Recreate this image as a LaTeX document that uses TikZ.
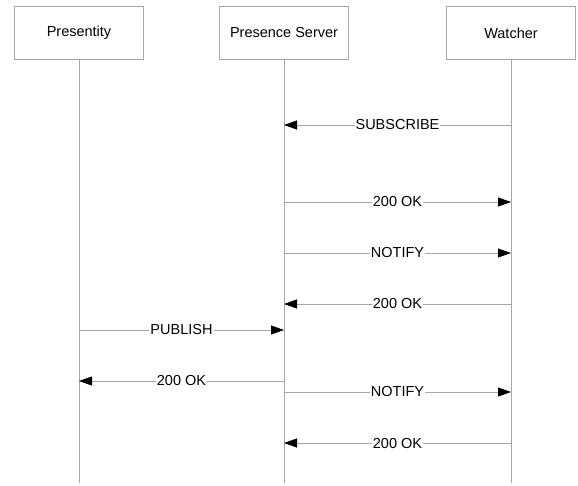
\documentclass[tikz,border=0pt]{standalone}
\usepackage{fontspec}
\setmainfont{Liberation Sans}
\usetikzlibrary{arrows.meta,positioning}

\begin{document}
\begin{tikzpicture}[x=1pt,y=-1pt,
actor/.style={draw=gray!70,line width=0.8pt,minimum width=129pt,minimum height=53pt,font=\fontsize{14.5}{16}\selectfont},
life/.style={draw=gray!70,line width=0.8pt},
msg/.style={draw=gray!70,line width=0.8pt,-{Triangle[length=13pt,width=9pt,color=black]}},
lbl/.style={fill=white,inner sep=1pt,font=\fontsize{14.5}{16}\selectfont}]
\useasboundingbox (0,0) rectangle (578,485);
\node[actor] (pres) at (79,33) {Presentity};
\node[actor] (srv) at (284,33) {Presence Server};
\node[actor] (wat) at (511,33) {Watcher};
\coordinate (presEnd) at (79,483);
\coordinate (srvEnd) at (284,483);
\coordinate (watEnd) at (511,483);
\draw[life] (pres)--(presEnd);
\draw[life] (srv)--(srvEnd);
\draw[life] (wat)--(watEnd);
% message ends
\coordinate (w1) at (511,125); \coordinate (s1) at (284,125);
\coordinate (s2) at (284,202); \coordinate (w2) at (511,202);
\coordinate (s3) at (284,253); \coordinate (w3) at (511,253);
\coordinate (w4) at (511,304); \coordinate (s4) at (284,304);
\coordinate (p5) at (79,330);  \coordinate (s5) at (284,330);
\coordinate (s6) at (284,381); \coordinate (p6) at (79,381);
\coordinate (s7) at (284,392); \coordinate (w7) at (511,392);
\coordinate (w8) at (511,443); \coordinate (s8) at (284,443);
\draw[msg] (w1)--node[lbl]{SUBSCRIBE}(s1);
\draw[msg] (s2)--node[lbl]{200 OK}(w2);
\draw[msg] (s3)--node[lbl]{NOTIFY}(w3);
\draw[msg] (w4)--node[lbl]{200 OK}(s4);
\draw[msg] (p5)--node[lbl]{PUBLISH}(s5);
\draw[msg] (s6)--node[lbl]{200 OK}(p6);
\draw[msg] (s7)--node[lbl]{NOTIFY}(w7);
\draw[msg] (w8)--node[lbl]{200 OK}(s8);
\end{tikzpicture}
\end{document}
